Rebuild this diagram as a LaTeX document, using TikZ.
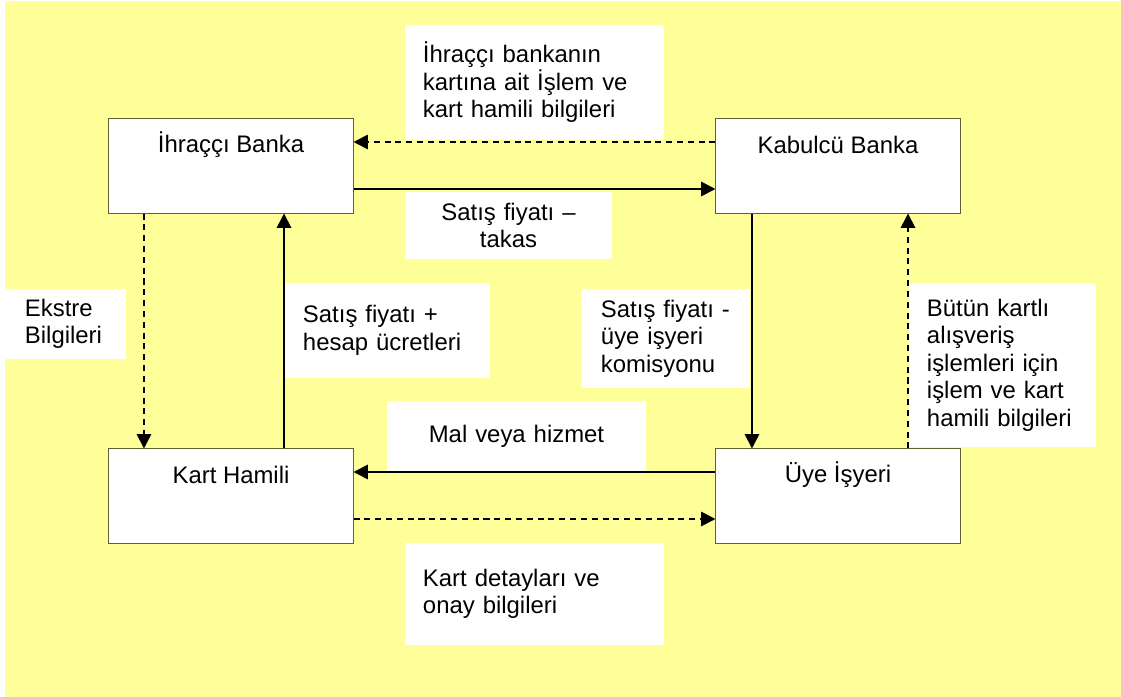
\documentclass[tikz,border=0pt]{standalone}
\usepackage{fontspec}
\setmainfont{Liberation Sans}
\usepackage{xcolor}
\usepackage{tikz}
\usetikzlibrary{arrows.meta,positioning}
\definecolor{sheetyellow}{RGB}{255,255,153}
\definecolor{boxline}{RGB}{96,96,48}
\newcommand{\diagfont}{\fontsize{17pt}{19.6pt}\selectfont}
\tikzset{
  partybox/.style={draw=boxline,fill=white,line width=0.7pt,minimum width=6.1cm,
    minimum height=2.35cm,inner sep=0pt},
  partyname/.style={anchor=center,yshift=-0.65cm,font=\diagfont,inner sep=0pt},
  notebox/.style={fill=white,inner ysep=0pt,font=\diagfont,align=left},
  flowarrow/.style={-{Triangle[length=0.36cm,width=0.36cm]},line width=1.3pt},
  infoarrow/.style={flowarrow,dash pattern=on 4.3pt off 3.4pt}
}

\begin{document}
\begin{tikzpicture}[x=0.025cm,y=-0.025cm]
  \useasboundingbox (0,0) rectangle (1121,697);
  \fill[sheetyellow] (5,1) rectangle (1121,697);

  \node[partybox,label={[partyname]north:İhraççı Banka}] (issuer) at (231,166) {};
  \node[partybox,label={[partyname]north:Kabulcü Banka}] (acquirer) at (838,166) {};
  \node[partybox,label={[partyname]north:Kart Hamili}] (holder) at (231,496) {};
  \node[partybox,label={[partyname]north:Üye İşyeri}] (merchant) at (838,496) {};

  \node[notebox,text width=5.575cm,inner xsep=0.45cm,minimum height=2.875cm] (issuernote) at (534.5,82.5)
    {İhraççı bankanın\\kartına ait İşlem ve\\kart hamili bilgileri\par\vspace{0.3cm}};
  \node[notebox,align=center,text width=5.175cm,inner xsep=0pt,minimum height=1.675cm] (clearnote) at (508.5,225.5)
    {Satış fiyatı –\\takas};
  \node[notebox,text width=2.025cm,inner xsep=0.5cm,minimum height=1.75cm] (statementnote) at (65.5,324)
    {Ekstre\\Bilgileri};
  \node[notebox,text width=4.225cm,inner xsep=0.45cm,minimum height=2.375cm] (feenote) at (387.5,330.5)
    {Satış fiyatı +\\hesap ücretleri\par\vspace{0.475cm}};
  \node[notebox,text width=3.225cm,inner xsep=0.5cm,minimum height=2.475cm] (commissionnote) at (665.5,338.5)
    {Satış fiyatı -\\üye işyeri\\komisyonu};
  \node[notebox,text width=3.775cm,inner xsep=0.45cm,minimum height=4.1cm] (recordnote) at (1002.5,365)
    {Bütün kartlı\\alışveriş\\işlemleri için\\işlem ve kart\\hamili bilgileri};
  \node[notebox,align=center,text width=6.475cm,inner xsep=0pt,minimum height=1.775cm] (goodsnote) at (516.5,436.5)
    {Mal veya hizmet\par\vspace{0.475cm}};
  \node[notebox,text width=5.575cm,inner xsep=0.45cm,minimum height=2.55cm] (cardnote) at (534.5,594)
    {Kart detayları ve\\onay bilgileri\par\vspace{0.6cm}};

  \draw[infoarrow] ([yshift=0.6cm]acquirer.west) -- ([yshift=0.6cm]issuer.east);
  \draw[flowarrow] ([yshift=-0.575cm]issuer.east) -- ([yshift=-0.575cm]acquirer.west);
  \draw[infoarrow] ([xshift=-2.175cm]issuer.south) -- ([xshift=-2.175cm]holder.north);
  \draw[flowarrow] ([xshift=1.325cm]holder.north) -- ([xshift=1.325cm]issuer.south);
  \draw[flowarrow] ([xshift=-2.15cm]acquirer.south) -- ([xshift=-2.15cm]merchant.north);
  \draw[infoarrow] ([xshift=1.75cm]merchant.north) -- ([xshift=1.75cm]acquirer.south);
  \draw[flowarrow] ([yshift=0.6cm]merchant.west) -- ([yshift=0.6cm]holder.east);
  \draw[infoarrow] ([yshift=-0.575cm]holder.east) -- ([yshift=-0.575cm]merchant.west);
\end{tikzpicture}
\end{document}
